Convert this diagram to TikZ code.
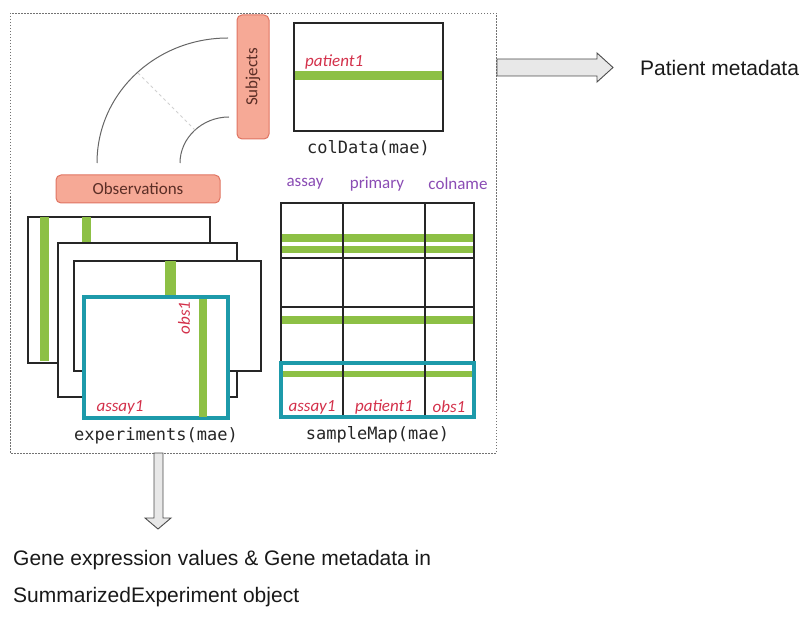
\documentclass[tikz,border=0pt]{standalone}
\usepackage{fontspec}
\setsansfont{Liberation Sans}
\setmonofont{DejaVu Sans Mono}
\newfontfamily\calibfont{Carlito}
\usepackage{tikz}
\usetikzlibrary{positioning}
\definecolor{leaf}{HTML}{8DC045}
\definecolor{selteal}{HTML}{1D9AAA}
\definecolor{tagfill}{HTML}{F6A996}
\definecolor{tagline}{HTML}{E07462}
\definecolor{tagtext}{HTML}{5B2E26}
\definecolor{labred}{HTML}{D3304A}
\definecolor{hdrviolet}{HTML}{8A4CB4}

\begin{document}
\begin{tikzpicture}[x=1pt,y=-1pt,
  box/.style={draw=black!85,line width=1.4pt,fill=white,inner sep=0pt},
  selbox/.style={draw=selteal,line width=3.3pt,inner sep=0pt},
  tag/.style={draw=tagline,fill=tagfill,line width=1pt,rounded corners=5pt,inner sep=0pt,
    text=tagtext,font=\calibfont\fontsize{17}{20}\selectfont},
  lab/.style={text=labred,inner sep=0pt,font=\calibfont\itshape\fontsize{17}{20}\selectfont},
  hdr/.style={text=hdrviolet,inner sep=0pt,font=\calibfont\fontsize{17}{20}\selectfont},
  code/.style={inner sep=0pt,text=black!85,font=\ttfamily\fontsize{17}{20}\selectfont},
  note/.style={anchor=west,inner sep=0pt,text=black!90,font=\sffamily\fontsize{21}{25}\selectfont},
  fat/.style={draw=black!70,fill=black!9,line width=0.9pt,line join=miter}]
\useasboundingbox (0,0) rectangle (810,636);
\draw[black!55,dash pattern=on 1.5pt off 1.5pt] (10,13) rectangle (496,453);

\node[tag,minimum width=124,minimum height=32,rotate=90] (subj) at (253,77) {Subjects};
\node[tag,minimum width=164,minimum height=28] (obsv) at (138,189) {Observations};
\coordinate (outA) at (97,163);
\coordinate (outB) at (228,38);
\coordinate (inA) at (180,163);
\coordinate (inB) at (229,117);
\draw[black!60,line width=1pt] (outA) .. controls +(0,-70) and +(-72,0) .. (outB);
\draw[black!60,line width=1pt] (inA) .. controls +(0,-25) and +(-27,0) .. (inB);
\draw[black!18,dashed,line width=1pt] (138,73) -- (195,130);

\fill[leaf] (294,71) rectangle (443,80);
\node[box,fill=none,minimum width=149,minimum height=108] (coldata) at (368.5,77) {};
\node[lab,anchor=south west] (pat) at (305,69) {patient1};
\node[code,below=9pt of coldata] (coldatalbl) {colData(mae)};

\draw[fat] (497,59) -- (597,59) -- (597,53) -- (613,67.5) -- (597,82) -- (597,76) -- (497,76) -- cycle;
\node[note] (patmeta) at (640,68) {Patient metadata};

\draw[box] (28,217) rectangle (210,363);
\fill[leaf] (40,217) rectangle (49,361);
\fill[leaf] (82,217) rectangle (91,243);
\draw[box] (58,243) rectangle (237,397);
\draw[box] (74,261) rectangle (261,371);
\fill[leaf] (165,261) rectangle (176,297);
\node[selbox,fill=white,minimum width=144,minimum height=121] (assaysel) at (156,357.5) {};
\fill[leaf] (199,299) rectangle (207,416.5);
\node[lab,rotate=90] (obslbl) at (184,318) {obs1};
\node[lab] (assaylbl) at (120,407) {assay1};
\node[code,below=8pt of assaysel] (explbl) {experiments(mae)};

\foreach \ya/\yb in {234/242,246/253,316/324,371/377}
  \fill[leaf] (281,\ya) rectangle (474,\yb);
\node[box,fill=none,minimum width=193,minimum height=214] (smap) at (377.5,310) {};
\foreach \x in {343,425}
  \draw[box] (\x,203) -- (\x,417);
\foreach \y in {258,307}
  \draw[box] (281,\y) -- (474,\y);
\node[selbox,minimum width=193,minimum height=54] (rowsel) at (377.5,390) {};
\foreach \x/\t in {305/assay,377/primary,458/colname}
  \node[hdr] (h\t) at (\x,184) {\t};
\foreach \x/\t in {312/assay1,384/patient1,449/obs1}
  \node[lab] (r\t) at (\x,407) {\t};
\node[code,below=8pt of rowsel] (smaplbl) {sampleMap(mae)};

\draw[fat] (154,453) -- (154,518) -- (145,518) -- (158,529) -- (171,518) -- (163,518) -- (163,453) -- cycle;
\node[note] (genes) at (13,560) {Gene expression values \& Gene metadata in};
\node[note] (seobj) at (13,597) {SummarizedExperiment object};
\end{tikzpicture}
\end{document}
